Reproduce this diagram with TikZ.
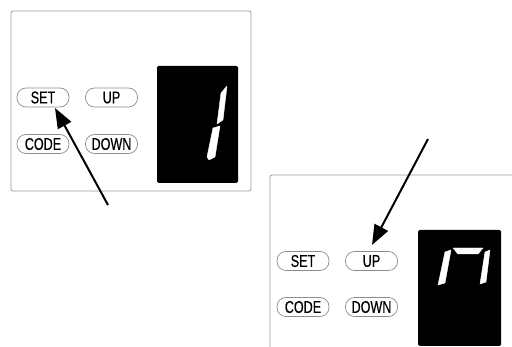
\documentclass[tikz,border=0pt]{standalone}
\usepackage{fontspec}
\newfontfamily\btnfont[FakeStretch=0.74,FakeBold=0.5]{Liberation Sans}
\usetikzlibrary{arrows.meta}
\begin{document}
\begin{tikzpicture}[x=1pt,y=-1pt,
  panel/.style={draw=black!40,line width=0.8pt,rounded corners=2pt},
  btn/.style={draw=black!45,line width=0.7pt,rounded corners=9pt,minimum width=52pt,minimum height=19pt,inner sep=0pt,font=\btnfont\fontsize{17}{17}\selectfont},
  lcd/.style={fill=black,rounded corners=1.5pt},
  seg/.style={fill=white,draw=white,line width=0.4pt,line join=round},
  pointer/.style={line width=2pt,-{Triangle[length=20pt,width=15pt]},shorten >=0pt}]
\useasboundingbox (0,0) rectangle (512,347);
% panel 1
\draw[panel] (11,11) rectangle (251,191);
\fill[lcd] (157,66) rectangle (238,183);
\filldraw[seg] (221,93) -- (227,86) -- (223,120) -- (217,124) -- cycle;
\filldraw[seg] (213,128) -- (220,126) -- (215,157) -- (209,160) -- (207,157) -- cycle;
\node[btn] (set1) at (43,97.5) {SET};
\node[btn] (up1) at (111.5,97.5) {UP};
\node[btn] (code1) at (43,144) {CODE};
\node[btn] (down1) at (111.5,144) {DOWN};
% panel 2
\draw[panel] (512,175) -- (270,175) -- (270,347);
\fill[lcd] (418,230) rectangle (501,346);
\filldraw[seg] (453,248) -- (483,248) -- (478,254) -- (458,254) -- cycle;
\filldraw[seg] (445,252) -- (451,250) -- (445,283) -- (438,285) -- cycle;
\filldraw[seg] (485,252) -- (490,250) -- (486,282) -- (480,284) -- cycle;
\node[btn] (set2) at (303,261) {SET};
\node[btn] (up2) at (371.5,261) {UP};
\node[btn] (code2) at (303,307) {CODE};
\node[btn] (down2) at (371.5,307) {DOWN};
% arrows
\coordinate (a1s) at (108,205);
\coordinate (a1t) at (55,108);
\coordinate (a2s) at (428,139);
\coordinate (a2t) at (372,245);
\draw[pointer] (a1s) -- (a1t);
\draw[pointer] (a2s) -- (a2t);
\end{tikzpicture}
\end{document}
